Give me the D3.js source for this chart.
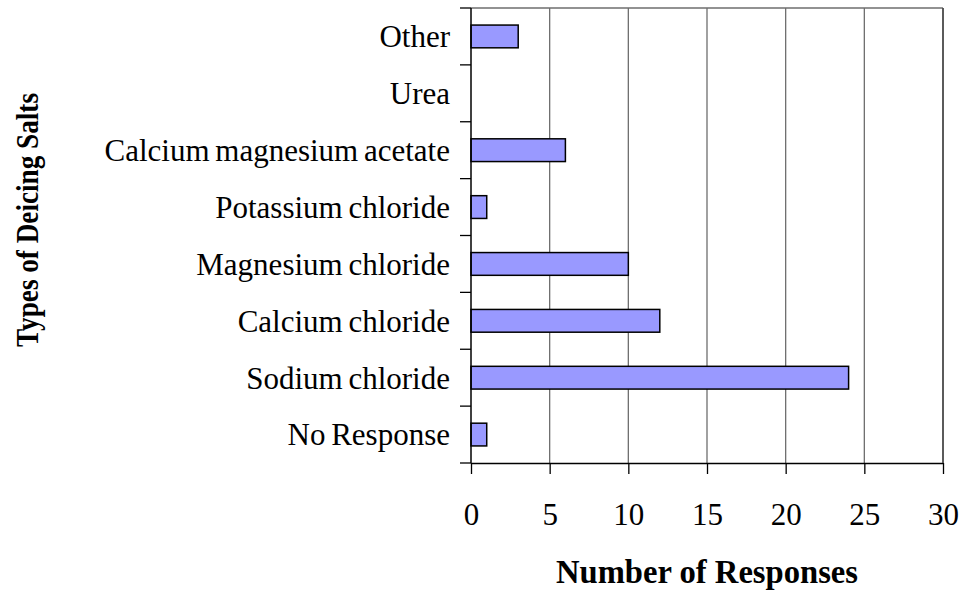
<!DOCTYPE html>
<html>
<head>
<meta charset="utf-8">
<script src="https://cdn.jsdelivr.net/npm/d3@7"></script>
<style>
  body { margin: 0; background: #fff; }
  svg { display: block; font-family: "Liberation Serif", "Times New Roman", serif; }
</style>
</head>
<body>
<svg width="961" height="592"></svg>
<script>
const categories = ["Other", "Urea", "Calcium magnesium acetate", "Potassium chloride",
  "Magnesium chloride", "Calcium chloride", "Sodium chloride", "No Response"];
const responses = [3, 0, 6, 1, 10, 12, 24, 1];
const xTicks = [0, 5, 10, 15, 20, 25, 30];

const svg = d3.select("svg");
const margin = { top: 8, right: 18, bottom: 129, left: 471 };
const width = +svg.attr("width") - margin.left - margin.right;
const height = +svg.attr("height") - margin.top - margin.bottom;
const chart = svg.append("g").attr("transform", `translate(${margin.left},${margin.top})`);

const x = d3.scaleLinear().domain([0, 30]).range([0, width]);
const y = d3.scaleBand().domain(categories).range([0, height]).paddingInner(0.6).paddingOuter(0.3);

// gridlines
chart.selectAll("line.grid")
  .data(xTicks.slice(1))
  .enter()
  .append("line")
  .attr("x1", d => x(d)).attr("x2", d => x(d))
  .attr("y1", 0).attr("y2", height)
  .attr("stroke", "#6e6e6e")
  .attr("stroke-width", 1.3);

// top border
chart.append("line")
  .attr("x1", 0).attr("x2", width)
  .attr("y1", 0).attr("y2", 0)
  .attr("stroke", "#6e6e6e")
  .attr("stroke-width", 1.3);

// bars
chart.selectAll("rect.bar")
  .data(categories.map((c, i) => ({ c, v: responses[i] })).filter(d => d.v > 0))
  .enter()
  .append("rect")
  .attr("class", "bar")
  .attr("x", 0)
  .attr("y", d => y(d.c))
  .attr("width", d => x(d.v))
  .attr("height", y.bandwidth())
  .attr("fill", "#9999ff")
  .attr("stroke", "#000")
  .attr("stroke-width", 1.5);

// x axis
const xAxis = chart.append("g")
  .attr("transform", `translate(0,${height})`)
  .call(d3.axisBottom(x).tickValues(xTicks).tickSize(11).tickPadding(29).tickSizeOuter(0));
xAxis.select(".domain").attr("stroke", "#000").attr("stroke-width", 1.5);
xAxis.selectAll(".tick line").attr("stroke", "#000").attr("stroke-width", 1.3);
xAxis.selectAll("text").attr("font-size", 31).attr("fill", "#000")
  .attr("font-family", "Liberation Serif, serif");

// y axis: ticks at band boundaries
const bounds = d3.range(categories.length + 1).map(i => i * height / categories.length);
chart.append("line")
  .attr("x1", 0).attr("x2", 0).attr("y1", 0).attr("y2", height)
  .attr("stroke", "#000").attr("stroke-width", 1.5);
chart.selectAll("line.ytick")
  .data(bounds)
  .enter()
  .append("line")
  .attr("x1", -11).attr("x2", 0)
  .attr("y1", d => d).attr("y2", d => d)
  .attr("stroke", "#000").attr("stroke-width", 1.3);

chart.selectAll("text.ylab")
  .data(categories)
  .enter()
  .append("text")
  .attr("x", -21)
  .attr("y", d => y(d) + y.bandwidth() / 2)
  .attr("dy", "0.35em")
  .attr("text-anchor", "end")
  .attr("font-size", 31)
  .attr("word-spacing", -2)
  .text(d => d);

// right border
chart.append("line")
  .attr("x1", width).attr("x2", width).attr("y1", 0).attr("y2", height)
  .attr("stroke", "#444").attr("stroke-width", 1.5);

// axis titles
svg.append("text")
  .attr("x", margin.left + width / 2)
  .attr("y", 583)
  .attr("text-anchor", "middle")
  .attr("font-size", 33)
  .attr("font-weight", "bold")
  .attr("textLength", 302)
  .attr("lengthAdjust", "spacingAndGlyphs")
  .text("Number of Responses");

svg.append("text")
  .attr("transform", "translate(38,220) rotate(-90)")
  .attr("text-anchor", "middle")
  .attr("font-size", 31)
  .attr("font-weight", "bold")
  .attr("textLength", 254)
  .attr("lengthAdjust", "spacingAndGlyphs")
  .text("Types of Deicing Salts");
</script>
</body>
</html>
